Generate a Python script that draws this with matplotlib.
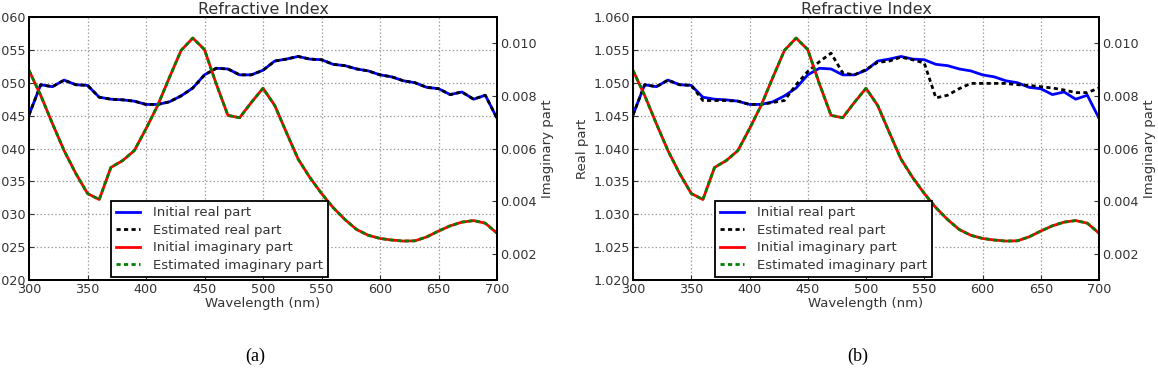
import numpy as np
import matplotlib
matplotlib.use("Agg")
import matplotlib.pyplot as plt

plt.rcParams["font.family"] = ["DejaVu Sans"]
plt.rcParams["lines.scale_dashes"] = False

wavelength = list(range(300, 701, 10))

real_initial = [
    1.0451, 1.0497, 1.0494, 1.0504, 1.0497, 1.0496, 1.0478, 1.0475, 1.0474, 1.0472,
    1.0467, 1.0467, 1.0471, 1.0480, 1.0492, 1.0512, 1.0522, 1.0521, 1.0512, 1.0512,
    1.0519, 1.0533, 1.0536, 1.0540, 1.0536, 1.0535, 1.0528, 1.0526, 1.0521, 1.0518,
    1.0512, 1.0509, 1.0503, 1.0500, 1.0493, 1.0491, 1.0482, 1.0486, 1.0475, 1.0481,
    1.0446,
]

# panel (b): estimate drifts away from the initial real part
real_estimated_b = [
    1.0451, 1.0497, 1.0494, 1.0504, 1.0497, 1.0496, 1.0473, 1.0473, 1.0473, 1.0472,
    1.0467, 1.0467, 1.0470, 1.0473, 1.0497, 1.0517, 1.0532, 1.0545, 1.0515, 1.0512,
    1.0520, 1.0531, 1.0533, 1.0539, 1.0535, 1.0530, 1.0477, 1.0481, 1.0491, 1.0499,
    1.0499, 1.0499, 1.0499, 1.0497, 1.0496, 1.0494, 1.0492, 1.0489, 1.0485, 1.0485,
    1.0492,
]

imag_initial = [
    0.00897, 0.00802, 0.00695, 0.00592, 0.00505, 0.00429, 0.00406, 0.00528, 0.00554, 0.00592,
    0.00675, 0.00764, 0.00870, 0.00973, 0.01020, 0.00976, 0.00846, 0.00726, 0.00717, 0.00775,
    0.00829, 0.00764, 0.00661, 0.00560, 0.00490, 0.00429, 0.00375, 0.00330, 0.00292, 0.00270,
    0.00258, 0.00252, 0.00248, 0.00249, 0.00264, 0.00286, 0.00306, 0.00320, 0.00326, 0.00316,
    0.00278,
]

real_ticks = [1.020, 1.025, 1.030, 1.035, 1.040, 1.045, 1.050, 1.055, 1.060]
imag_ticks = [0.002, 0.004, 0.006, 0.008, 0.010]
x_ticks = [300, 350, 400, 450, 500, 550, 600, 650, 700]

W, H = 1158, 371
fig = plt.figure(figsize=(W / 100, H / 100), dpi=100)

dash = (0, (3.0, 2.4))
text_col = "0.2"


def draw_panel(left_px, width_px, real_est, show_real_label, caption, caption_x):
    ax = fig.add_axes([left_px / W, 1 - 280 / H, width_px / W, 263 / H])
    ax2 = ax.twinx()

    l1, = ax.plot(wavelength, real_initial, color="#0000ff", lw=2.0,
                  label="Initial real part")
    l2, = ax.plot(wavelength, real_est, color="black", lw=2.0, linestyle=dash,
                  label="Estimated real part")
    l3, = ax2.plot(wavelength, imag_initial, color="#ff0000", lw=2.0,
                   label="Initial imaginary part")
    l4, = ax2.plot(wavelength, imag_initial, color="#008000", lw=2.0, linestyle=dash,
                   label="Estimated imaginary part")

    ax.set_xlim(300, 700)
    ax.set_ylim(1.020, 1.060)
    ax2.set_ylim(0.001, 0.011)
    ax.set_xticks(x_ticks)
    ax.set_yticks(real_ticks)
    ax.set_yticklabels(["%.3f" % v for v in real_ticks])
    ax2.set_yticks(imag_ticks)
    ax2.set_yticklabels(["%.3f" % v for v in imag_ticks])

    ax.grid(True, color="0.6", linestyle=":", linewidth=0.9)
    for a in (ax, ax2):
        a.tick_params(direction="in", length=3.5, width=0.8, labelsize=9.2,
                      pad=2, colors=text_col)
        for s in a.spines.values():
            s.set_linewidth(1.4)
            s.set_color("black")

    ax.set_title("Refractive Index", fontsize=11.5, color=text_col, pad=2.5)
    ax.set_xlabel("Wavelength (nm)", fontsize=9.5, color=text_col, labelpad=1)
    if show_real_label:
        ax.set_ylabel("Real part", fontsize=9.5, color=text_col, labelpad=3.5)
    ax2.set_ylabel("Imaginary part", fontsize=9.5, color=text_col, labelpad=3.5)

    leg = ax2.legend(handles=[l1, l2, l3, l4], loc="lower left",
                     bbox_to_anchor=(0.175, 0.01), borderaxespad=0,
                     fontsize=9.5, fancybox=False, framealpha=1,
                     handlelength=1.8, handletextpad=1.0, labelspacing=0.35,
                     borderpad=0.4)
    leg.get_frame().set_edgecolor("black")
    leg.get_frame().set_linewidth(1.3)
    for t in leg.get_texts():
        t.set_color(text_col)

    fig.text(caption_x / W, 1 - 356 / H, caption, ha="center", va="center",
             fontsize=13, family="Liberation Serif")


draw_panel(29, 468, real_initial, False, "(a)", 255)
draw_panel(633, 466, real_estimated_b, True, "(b)", 858)

fig.savefig("out.png", dpi=100)
